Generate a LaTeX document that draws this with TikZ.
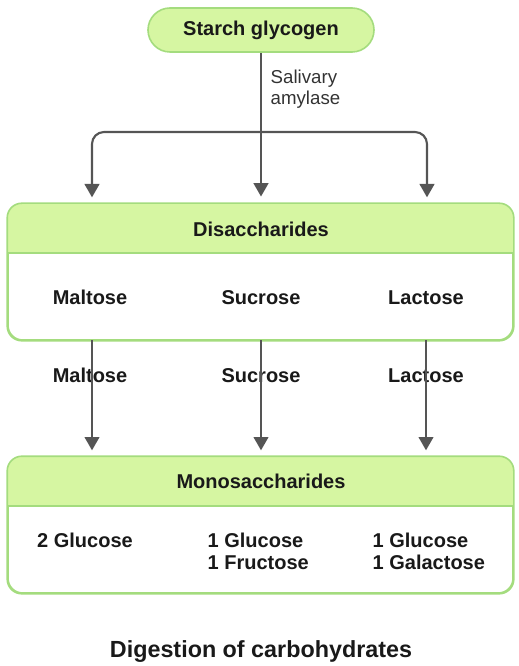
\documentclass[tikz,border=0pt]{standalone}
\usepackage{fontspec}
\setmainfont{Liberation Sans}
\usetikzlibrary{arrows.meta}
\definecolor{leaf}{RGB}{214,246,162}
\definecolor{leafline}{RGB}{164,220,126}
\definecolor{arrgray}{RGB}{85,85,85}
\begin{document}
\begin{tikzpicture}[x=0.75pt,y=-0.75pt,
  lbl/.style={font=\bfseries\fontsize{15}{16.5}\selectfont,text=black!90,text height=11pt,text depth=3pt},
  panel/.style={draw=leafline,line width=1.2pt,rounded corners=11pt,minimum width=378.75pt,minimum height=102pt,inner sep=0pt},
  arr/.style={draw=arrgray,line width=1.6pt,-{Triangle[width=11pt,length=10pt]},shorten >=5pt}]
  \useasboundingbox (0,0) rectangle (518,666);
  \node[lbl,draw=leafline,fill=leaf,line width=1.2pt,rounded corners=16.5pt,minimum width=169.5pt,minimum height=33pt] (sg) at (261,30) {Starch glycogen};
  \node[anchor=west,align=left,font=\fontsize{14}{15.75}\selectfont,text=black!80] (sal) at (266,89) {Salivary\\amylase};
  \node[panel] (dis) at (260.5,272) {};
  \node[panel] (mono) at (260.5,525) {};
  \foreach \b in {dis,mono}{
    \begin{scope}
      \clip[rounded corners=11pt] (\b.north west) rectangle (\b.south east);
      \fill[leaf] (\b.north west) rectangle ([yshift=-37.5pt]\b.north east);
    \end{scope}
    \draw[leafline,line width=1.2pt] ([yshift=-37.5pt]\b.north west) -- ([yshift=-37.5pt]\b.north east);
    \draw[leafline,line width=1.2pt,rounded corners=11pt] (\b.north west) rectangle (\b.south east);
  }
  \node[lbl] (dhead) at (261,231) {Disaccharides};
  \node[lbl] (mhead) at (261,483) {Monosaccharides};
  \node[lbl] (dmal) at (90,299) {Maltose};
  \node[lbl] (dsuc) at (261,299) {Sucrose};
  \node[lbl] (dlac) at (426,299) {Lactose};
  \node[lbl] (emal) at (90,377) {Maltose};
  \node[lbl] (esuc) at (261,377) {Sucrose};
  \node[lbl] (elac) at (426,377) {Lactose};
  \node[lbl] (glu) at (85,542) {2 Glucose};
  \node[font=\bfseries\fontsize{15}{16.5}\selectfont,text=black!90,anchor=west,align=left] (glufru) at (203,551) {1 Glucose\\1 Fructose};
  \node[font=\bfseries\fontsize{15}{16.5}\selectfont,text=black!90,anchor=west,align=left] (glugal) at (368,551) {1 Glucose\\1 Galactose};
  \node[font=\bfseries\fontsize{17.5}{20}\selectfont,text=black!90] (title) at (261,652) {Digestion of carbohydrates};
  \coordinate (fork) at (261,132);
  \draw[arr] (sg.south) -- (sg.south |- dis.north);
  \draw[arr,rounded corners=9pt] (fork) -| (92,204);
  \draw[arr,rounded corners=9pt] (fork) -| (427,204);
  \foreach \x in {92,261,426}{\draw[arr] (\x,340) -- (\x,457);}
\end{tikzpicture}
\end{document}
